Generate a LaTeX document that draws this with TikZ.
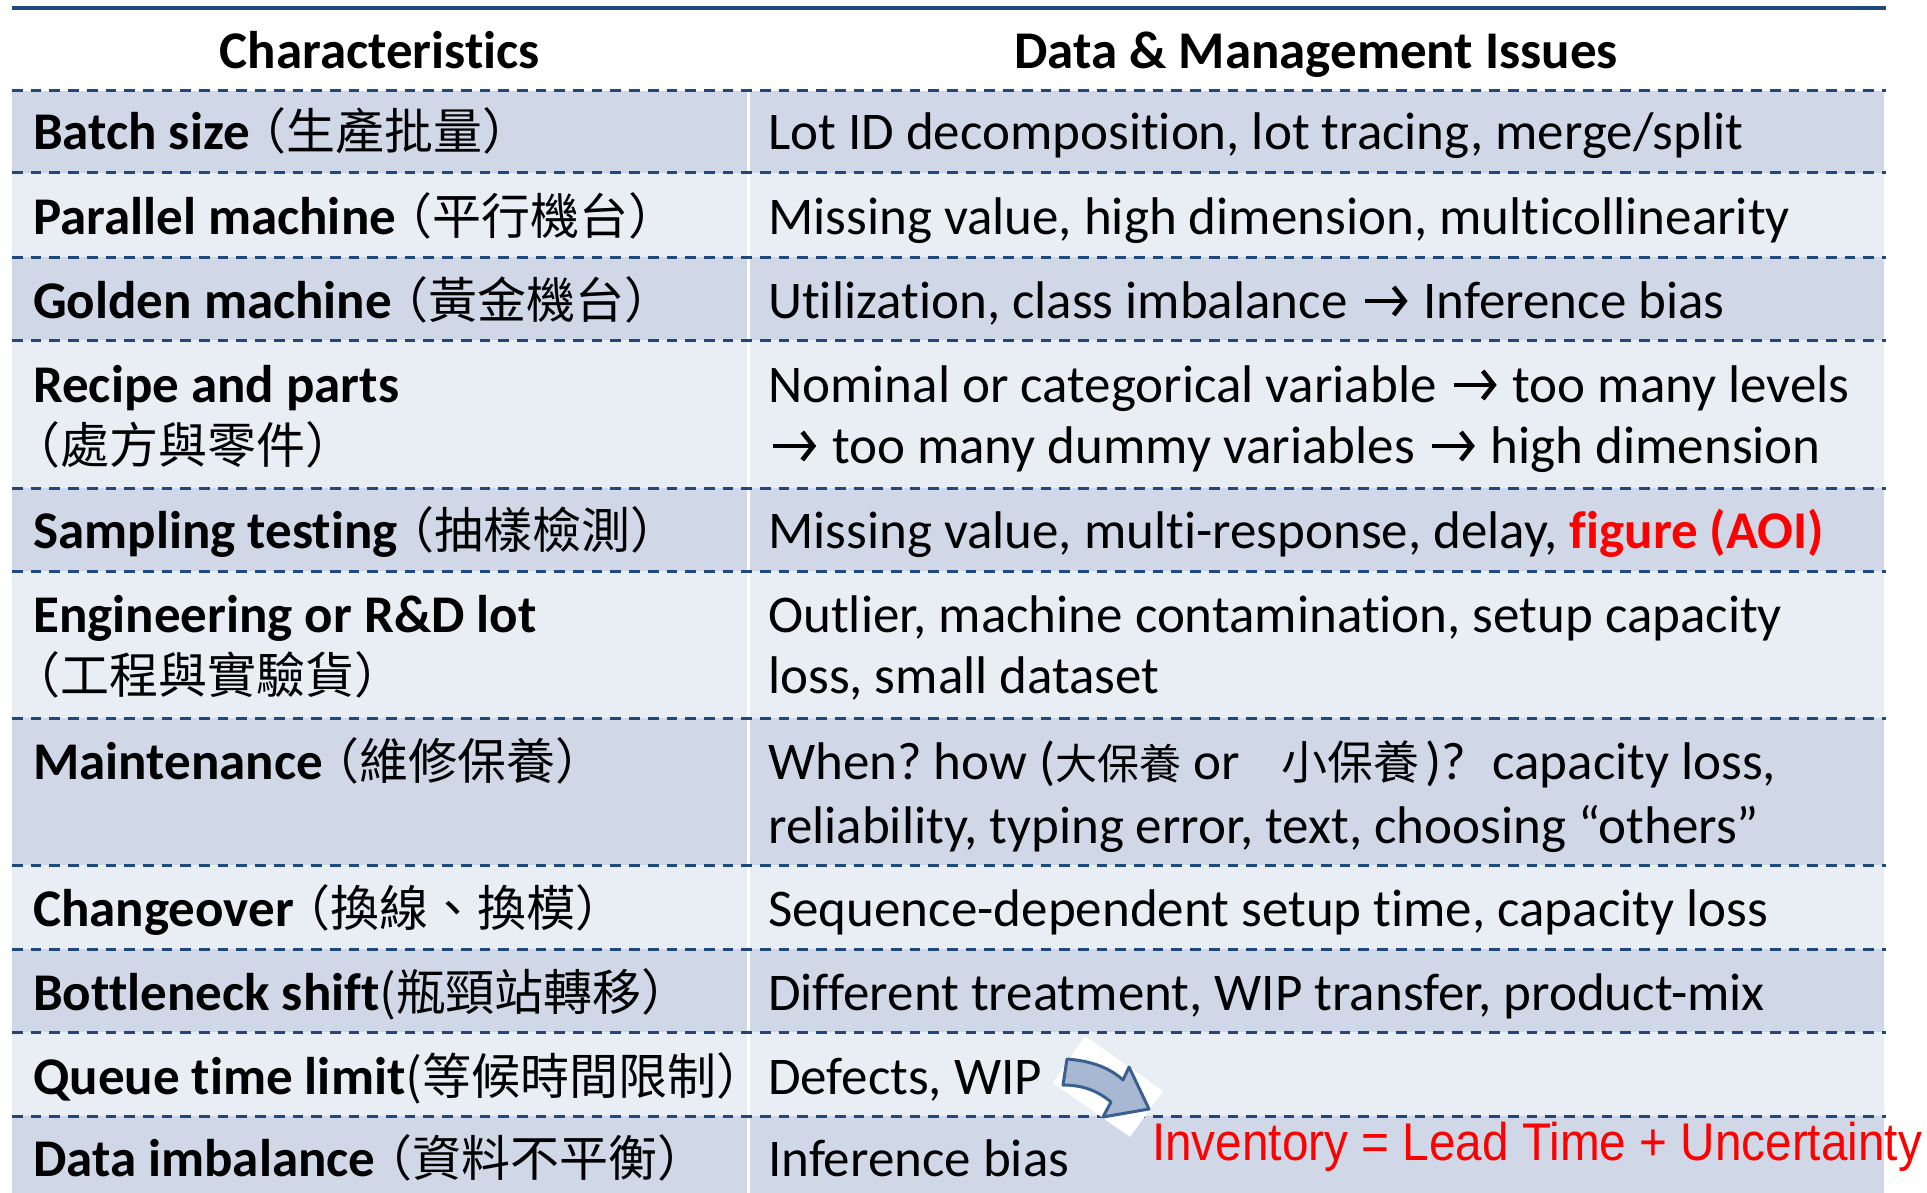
\documentclass[tikz,border=0pt]{standalone}
\usepackage{fontspec}
\usetikzlibrary{arrows.meta}
\setmainfont[Ligatures=NoCommon]{Carlito}
\newfontfamily\cjk{Noto Sans CJK TC}
\newfontfamily\invfont[FakeStretch=0.9]{Liberation Sans}

\definecolor{rowdark}{RGB}{208,216,232}
\definecolor{rowlight}{RGB}{233,237,244}
\definecolor{rulecol}{RGB}{31,73,125}
\definecolor{arrowfill}{RGB}{168,184,210}
\definecolor{arrowline}{RGB}{58,96,146}

% Chinese text in the characteristics column
\newcommand\zh[1]{{\fontsize{49}{54}\selectfont\cjk #1}}
% Chinese text inside an issue line
\newcommand\zhs[1]{{\fontsize{42}{50}\selectfont\cjk #1}}
\newcommand\zhm[1]{{\fontsize{46}{50}\selectfont\cjk #1}}
% heavy right arrow used in the issue texts
\newcommand\rarr{\tikz[baseline=0pt]{\path (0pt,0pt) (52pt,0pt);
  \draw[line width=4.6pt,
  -{Straight Barb[length=11pt,width=28pt,line width=4.6pt]}]
  (5pt,17pt) -- (48pt,17pt);}}

\tikzset{
  cell/.style={anchor=base west, inner sep=0pt, font=\fontsize{53}{62}\selectfont\frenchspacing},
  head/.style={anchor=base, inner sep=0pt, font=\fontsize{53}{62}\selectfont\bfseries},
  rowrule/.style={draw=rulecol, line width=3pt, dash pattern=on 10.7pt off 8pt},
}

\begin{document}
\begin{tikzpicture}[x=1pt,y=-1pt]
\useasboundingbox (0,0) rectangle (1927,1193);
\fill[white] (0,0) rectangle (1927,1193);

% banded rows
\fill[rowdark]  (12,91)   rectangle (1884,173);
\fill[rowlight] (12,173)  rectangle (1884,257);
\fill[rowdark]  (12,257)  rectangle (1884,340);
\fill[rowlight] (12,340)  rectangle (1884,488);
\fill[rowdark]  (12,488)  rectangle (1884,571);
\fill[rowlight] (12,571)  rectangle (1884,718);
\fill[rowdark]  (12,718)  rectangle (1884,865);
\fill[rowlight] (12,865)  rectangle (1884,949);
\fill[rowdark]  (12,949)  rectangle (1884,1032);
\fill[rowlight] (12,1032) rectangle (1884,1116);
\fill[rowdark]  (12,1116) rectangle (1884,1193);

% column divider
\draw[white, line width=3pt] (748,91) -- (748,1193);

% row rules
\foreach \y in {91,173,257,340,488,571,718,865,949,1032,1116}
  \draw[rowrule] (12,\y) -- (1886,\y);
\draw[rulecol, line width=4pt] (12,8) -- (1886,8);

% header
\node[head] (h1) at (380,69) {Characteristics};
\node[head] (h2) at (1316,69) {Data \& Management Issues};

% characteristics
\node[cell] (c1)  at (33,150)  {\textbf{Batch size}\zh{\kern-0.25em（生產批量）}};
\node[cell] (c2)  at (33,234)  {\textbf{Parallel machine}\zh{\kern-0.25em（平行機台）}};
\node[cell] (c3)  at (33,318)  {\textbf{Golden machine}\zh{\kern-0.25em（黃金機台）}};
\node[cell] (c4a) at (33,402)  {\textbf{Recipe and parts}};
\node[cell] (c4b) at (33,463)  {\zh{\kern-0.45em（處方與零件）}};
\node[cell] (c5)  at (33,548)  {\textbf{Sampling testing}\zh{\kern-0.25em（抽樣檢測）}};
\node[cell] (c6a) at (33,632)  {\textbf{Engineering or R\&D lot}};
\node[cell] (c6b) at (33,693)  {\zh{\kern-0.45em（工程與實驗貨）}};
\node[cell] (c7)  at (33,779)  {\textbf{Maintenance}\zh{\kern-0.25em（維修保養）}};
\node[cell] (c8)  at (33,926)  {\textbf{Changeover}\zh{\kern-0.25em（換線、換模）}};
\node[cell] (c9)  at (33,1010) {\textbf{Bottleneck shift}\zh{(瓶頸站轉移）}};
\node[cell] (c10) at (33,1094) {\textbf{Queue time limit}\zh{(等候時間限制）}};
\node[cell] (c11) at (33,1176) {\textbf{Data imbalance}\zh{\kern-0.25em（資料不平衡）}};

% data & management issues
\node[cell] (d1)  at (768,150)  {Lot ID decomposition, lot tracing, merge/split};
\node[cell] (d2)  at (768,234)  {Missing value, high dimension, multicollinearity};
\node[cell] (d3)  at (768,318)  {Utilization, class imbalance \rarr{} Inference bias};
\node[cell] (d4a) at (768,402)  {Nominal or categorical variable \rarr{} too many levels};
\node[cell] (d4b) at (768,463)  {\rarr{} too many dummy variables \rarr{} high dimension};
\node[cell] (d5)  at (768,548)  {Missing value, multi-response, delay, \textcolor{red}{\bfseries figure (AOI)}};
\node[cell] (d6a) at (768,632)  {Outlier, machine contamination, setup capacity};
\node[cell] (d6b) at (768,693)  {loss, small dataset};
\node[cell] (d7a) at (768,779)  {When? how (\zhs{大保養} or\hspace{30pt} \zhm{小保養}\hspace{6pt})?\hspace{14pt} capacity loss,};
\node[cell] (d7b) at (768,843)  {reliability, typing error, text, choosing “others”};
\node[cell] (d8)  at (768,926)  {Sequence-dependent setup time, capacity loss};
\node[cell] (d9)  at (768,1010) {Different treatment, WIP transfer, product-mix};
\node[cell] (d10) at (768,1094) {Defects, WIP};
\node[cell] (d11) at (768,1176) {Inference bias};

% curved block arrow on its white tile
\fill[white] (1085,1036) -- (1163,1091) -- (1130,1137) -- (1053,1083) -- cycle;
\filldraw[fill=arrowfill, draw=arrowline, line width=3pt, line join=round]
  (1067,1059) .. controls (1092,1061) and (1110,1068) .. (1123,1080)
  -- (1129,1067) -- (1149,1109) -- (1103,1117) -- (1111,1102)
  .. controls (1098,1091) and (1083,1085) .. (1063,1085) -- cycle;

\node[anchor=base west, inner sep=0pt, text=red, font=\invfont\fontsize{53}{60}\selectfont]
  (inv) at (1152,1160) {Inventory = Lead Time + Uncertainty};
\end{tikzpicture}
\end{document}
